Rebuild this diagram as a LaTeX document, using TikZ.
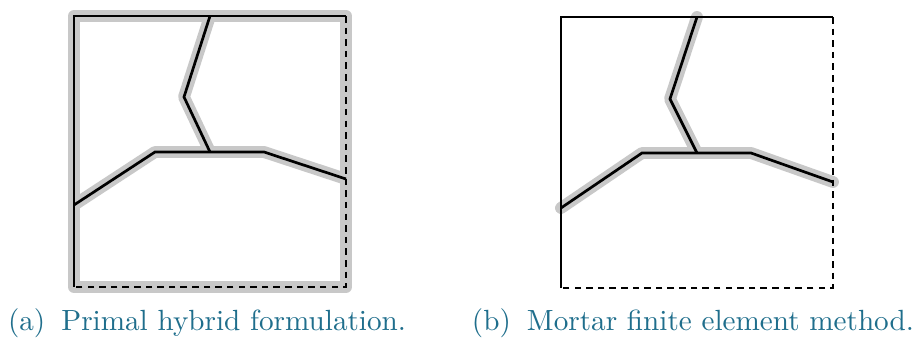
\documentclass[tikz,border=0pt]{standalone}
\usepackage{xcolor}
\definecolor{captc}{HTML}{1F6E8C}
\definecolor{halo}{HTML}{C8C8C8}
\tikzset{
  edgeline/.style={black, line width=0.95pt},
  dashline/.style={black, line width=0.95pt, dash pattern=on 2.3pt off 1.8pt},
  haloline/.style={halo, line width=4.2pt, line cap=round, line join=round},
  capt/.style={text=captc, font=\fontsize{10.3}{12.4}\selectfont, anchor=base, inner sep=0pt}
}
\begin{document}
\begin{tikzpicture}[x=0.3528pt, y=-0.3528pt]
\useasboundingbox (0,0) rectangle (916,339);
% ---------- (a) ----------
\begin{scope}[shift={(74,16)}]
  \coordinate (aTL) at (0,0);
  \coordinate (aTR) at (272,0);
  \coordinate (aBR) at (272,271);
  \coordinate (aBL) at (0,271);
  \coordinate (aT) at (136,0);
  \coordinate (aK) at (110,81);
  \coordinate (aJ) at (136,136);
  \coordinate (aLB) at (81,136);
  \coordinate (aL) at (0,189);
  \coordinate (aRB) at (190,136);
  \coordinate (aR) at (272,163);
  \draw[haloline] (aTL) -- (aTR) -- (aBR) -- (aBL) -- cycle;
  \draw[haloline] (aT) -- (aK) -- (aJ);
  \draw[haloline] (aL) -- (aLB) -- (aJ) -- (aRB) -- (aR);
  \draw[edgeline] (aBL) -- (aTL) -- (aTR);
  \draw[dashline] (aTR) -- (aBR) -- (aBL);
  \draw[edgeline] (aT) -- (aK) -- (aJ);
  \draw[edgeline] (aL) -- (aLB) -- (aJ) -- (aRB) -- (aR);
\end{scope}
% ---------- (b) ----------
\begin{scope}[shift={(561,17)}]
  \coordinate (bTL) at (0,0);
  \coordinate (bTR) at (272,0);
  \coordinate (bBR) at (272,271);
  \coordinate (bBL) at (0,271);
  \coordinate (bT) at (136,0);
  \coordinate (bK) at (109,82);
  \coordinate (bJ) at (136,136);
  \coordinate (bLB) at (81,136);
  \coordinate (bL) at (0,191);
  \coordinate (bRB) at (190,136);
  \coordinate (bR) at (272,165);
  \draw[haloline] (bT) -- (bK) -- (bJ);
  \draw[haloline] (bL) -- (bLB) -- (bJ) -- (bRB) -- (bR);
  \draw[edgeline] (bBL) -- (bTL) -- (bTR);
  \draw[dashline] (bTR) -- (bBR) -- (bBL);
  \draw[edgeline] (bT) -- (bK) -- (bJ);
  \draw[edgeline] (bL) -- (bLB) -- (bJ) -- (bRB) -- (bR);
\end{scope}
% ---------- captions ----------
\node[capt] (capa) at (207,331) {(a)\hspace{0.55em}Primal hybrid formulation.};
\node[capt] (capb) at (693,331) {(b)\hspace{0.55em}Mortar finite element method.};
\end{tikzpicture}
\end{document}
